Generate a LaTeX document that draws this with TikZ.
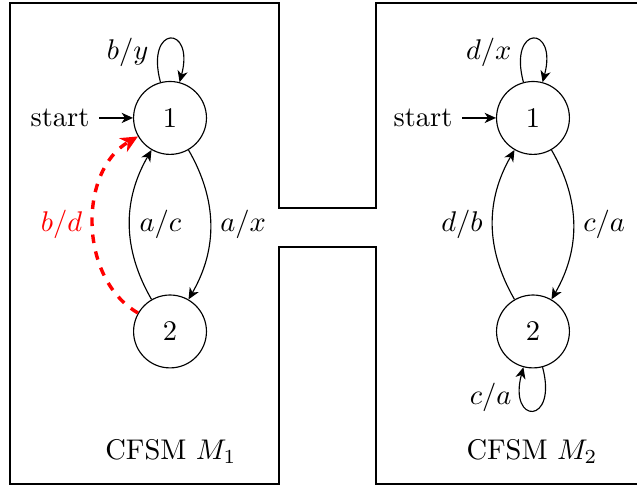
\documentclass[tikz,border=0pt]{standalone}
\usepackage{amsmath}
\usepackage{xcolor}
\usetikzlibrary{arrows.meta,positioning,calc}

\begin{document}
\begin{tikzpicture}[>={Stealth[length=4pt,width=3.6pt,inset=1.2pt]},
   st/.style={circle,draw,minimum size=9mm,inner sep=0pt},
   lab/.style={inner sep=3.3pt}]
  \useasboundingbox (0,0) rectangle (7.864,6.012);
  % the two machines, joined by a channel
  \draw (7.95,5.975) -- (4.642,5.975) -- (4.642,3.444) -- (3.444,3.444)
        -- (3.444,5.975) -- (0.123,5.975) -- (0.123,0.037) -- (3.444,0.037)
        -- (3.444,2.963) -- (4.642,2.963) -- (4.642,0.037) -- (7.95,0.037);
  % machine M_1
  \node[st] (l1) at (2.099,4.556) {1};
  \node[st] (l2) at (2.099,1.92) {2};
  \node (ls) at (0.741,4.556) {start};
  \draw[->] (ls.east) -- (l1.west);
  \draw[->] (l1) to[loop above] node[lab,left,pos=0.22]{$b/y$} (l1);
  \draw[->] (l1) to[bend left=30] node[lab,right]{$a/x$} (l2);
  \draw[->] (l2) to[bend left=30] node[lab,right]{$a/c$} (l1);
  \draw[-{Stealth[length=6pt,width=5.5pt,inset=1.8pt]},red,dashed,very thick]
    (l2) to[bend left=60] node[lab,left]{$b/d$} (l1);
  \node (m1) at (2.11,0.44) {CFSM $M_1$};
  % machine M_2
  \node[st] (r1) at (6.580,4.556) {1};
  \node[st] (r2) at (6.580,1.92) {2};
  \node (rs) at (5.222,4.556) {start};
  \draw[->] (rs.east) -- (r1.west);
  \draw[->] (r1) to[loop above] node[lab,left,pos=0.22]{$d/x$} (r1);
  \draw[->] (r1) to[bend left=30] node[lab,right]{$c/a$} (r2);
  \draw[->] (r2) to[bend left=30] node[lab,left]{$d/b$} (r1);
  \draw[->] (r2) to[loop below] node[lab,left,pos=0.78]{$c/a$} (r2);
  \node (m2) at (6.568,0.44) {CFSM $M_2$};
\end{tikzpicture}
\end{document}
